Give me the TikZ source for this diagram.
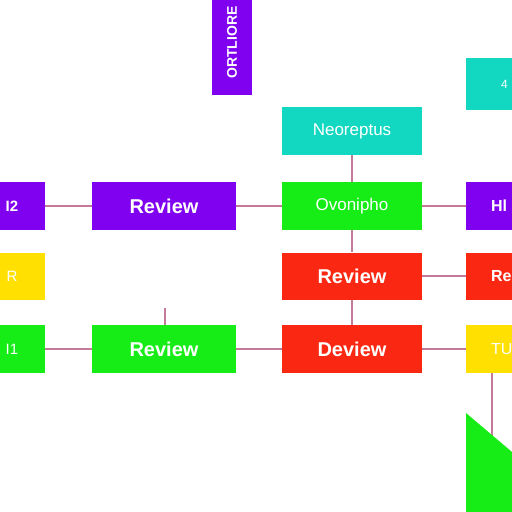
\documentclass[tikz,border=0pt]{standalone}
\usepackage{fontspec}
\setmainfont{Liberation Sans}
\definecolor{cpurple}{HTML}{8000F0}
\definecolor{cgreen}{HTML}{16EC16}
\definecolor{cred}{HTML}{FA2812}
\definecolor{cyellow}{HTML}{FFE000}
\definecolor{cteal}{HTML}{12D8C2}
\definecolor{cline}{HTML}{C47A9A}
\begin{document}
\begin{tikzpicture}[x=1pt,y=-1pt,
  box/.style={fill=#1, draw=none, inner sep=0pt, text=white, minimum height=48pt, font=\fontsize{17}{17}\selectfont},
  bigbox/.style={box=#1, font=\bfseries\fontsize{20}{20}\selectfont},
  rbox/.style={box=#1, minimum width=90pt, text width=40pt, inner xsep=25pt, align=left, font=\fontsize{16}{16}\selectfont},
  conn/.style={draw=cline, line width=1.1pt}]
\useasboundingbox (0,0) rectangle (512,512);
\clip (0,0) rectangle (512,512);
\fill[white] (0,0) rectangle (512,512);

% top boxes
\node[box=cpurple, minimum width=40pt, minimum height=105pt, font=\bfseries\fontsize{14}{14}\selectfont] (top) at (232,42.5) {\rotatebox{90}{ORTLIORE}};
\node[rbox=cteal, minimum height=52pt, text width=20pt, inner xsep=35pt, font=\fontsize{12}{12}\selectfont] (tr) at (511,84) {4};
\node[box=cteal, minimum width=140pt] (neo) at (352,131) {Neoreptus};

% row 1
\node[box=cpurple, minimum width=66pt, font=\bfseries\fontsize{15}{15}\selectfont] (l1) at (12,206) {I2};
\node[bigbox=cpurple, minimum width=144pt] (rev1) at (164,206) {Review};
\node[box=cgreen, minimum width=140pt] (ovo) at (352,206) {Ovonipho};
\node[rbox=cpurple] (r1) at (511,206) {\bfseries Hl};

% row 2
\node[box=cyellow, minimum width=66pt, minimum height=47pt, font=\fontsize{15}{15}\selectfont] (l2) at (12,276) {R};
\node[bigbox=cred, minimum width=140pt, minimum height=47pt] (rev2) at (352,276) {Review};
\node[rbox=cred, minimum height=47pt] (r2) at (511,276) {\bfseries Re};

% row 3
\node[box=cgreen, minimum width=66pt, font=\fontsize{15}{15}\selectfont] (l3) at (12,349) {I1};
\node[bigbox=cgreen, minimum width=144pt] (rev3) at (164,349) {Review};
\node[bigbox=cred, minimum width=140pt] (dev) at (352,349) {Deview};
\node[rbox=cyellow] (r3) at (511,349) {TU};

% connectors
\draw[conn] (l1) -- (rev1);
\draw[conn] (rev1) -- (ovo);
\draw[conn] (ovo) -- (r1);
\draw[conn] (neo) -- (ovo);
\draw[conn] (ovo) -- (rev2);
\draw[conn] (rev2) -- (r2);
\draw[conn] (rev2) -- (dev);
\draw[conn] (l3) -- (rev3);
\draw[conn] (rev3) -- (dev);
\draw[conn] (dev) -- (r3);
\coordinate (stub) at (165,308);
\draw[conn] (stub) -- (stub |- rev3.north);
\coordinate (gtop) at (492,440);
\draw[conn] (r3.south -| gtop) -- (gtop);

% green polygon
\fill[cgreen] (466,413) -- (512,452) -- (512,512) -- (466,512) -- cycle;
\end{tikzpicture}
\end{document}
